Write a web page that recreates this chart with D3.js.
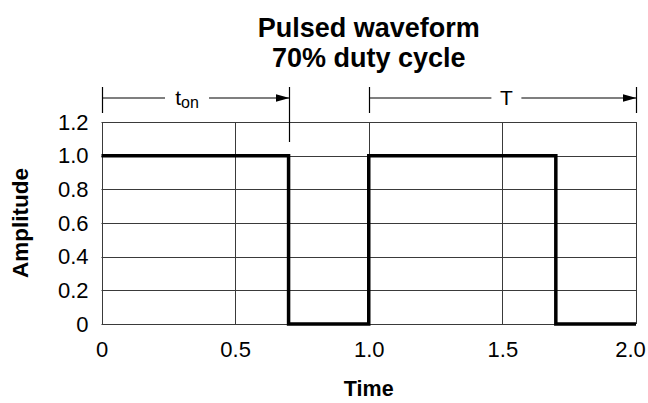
<!DOCTYPE html>
<html>
<head>
<meta charset="utf-8">
<script src="https://cdn.jsdelivr.net/npm/d3@7"></script>
<style>
  body { margin: 0; background: #fff; }
  svg { display: block; font-family: "Liberation Sans", Arial, Helvetica, sans-serif; }
</style>
</head>
<body>
<svg id="chart" width="648" height="403"></svg>
<script>
const titleLines = ["Pulsed waveform", "70% duty cycle"];
const timePoints = [0, 0.7, 0.7, 1.0, 1.0, 1.7, 1.7, 2.0];
const amplitudes = [1, 1, 0, 0, 1, 1, 0, 0];
const xTicks = [0, 0.5, 1.0, 1.5, 2.0];
const xTickLabels = ["0", "0.5", "1.0", "1.5", "2.0"];
const yTicks = [0, 0.2, 0.4, 0.6, 0.8, 1.0, 1.2];
const yTickLabels = ["0", "0.2", "0.4", "0.6", "0.8", "1.0", "1.2"];
const spanStarts = [0, 1.0];
const spanEnds = [0.7, 2.0];
const spanLabels = ["t", "T"];
const spanSubs = ["on", ""];
const spanLabelAt = [0.32, 1.515];

const svg = d3.select("#chart");
const margin = { top: 122, right: 12, bottom: 79, left: 101.5 };
const width = 648, height = 403;

const x = d3.scaleLinear().domain([0, 2]).range([margin.left, width - margin.right]);
const y = d3.scaleLinear().domain([0, 1.2]).range([height - margin.bottom, margin.top]);

// grid
const grid = svg.append("g").attr("stroke", "#3a3a3a").attr("stroke-width", 1);
grid.selectAll("line.h")
  .data(yTicks)
  .enter()
  .append("line")
  .attr("class", "h")
  .attr("x1", x(0)).attr("x2", x(2))
  .attr("y1", (d) => Math.round(y(d)) + 0.5)
  .attr("y2", (d) => Math.round(y(d)) + 0.5);
grid.selectAll("line.v")
  .data(xTicks)
  .enter()
  .append("line")
  .attr("class", "v")
  .attr("y1", y(0)).attr("y2", y(1.2))
  .attr("x1", (d) => Math.round(x(d)) + 0.5)
  .attr("x2", (d) => Math.round(x(d)) + 0.5);

// axes (labels only)
const xAxis = d3.axisBottom(x).tickValues(xTicks).tickFormat((d, i) => xTickLabels[i]).tickSize(0).tickPadding(17);
const yAxis = d3.axisLeft(y).tickValues(yTicks).tickFormat((d, i) => yTickLabels[i]).tickSize(0).tickPadding(13);

const gx = svg.append("g").attr("transform", `translate(0,${y(0)})`).call(xAxis);
const gy = svg.append("g").attr("transform", `translate(${x(0)},0)`).call(yAxis);
[gx, gy].forEach((g) => {
  g.select(".domain").remove();
  g.selectAll("text").attr("font-size", 22).attr("fill", "#000").attr("font-family", null);
});
// last x label is pulled in so it stays inside the picture
gx.selectAll("text").filter((d) => d === 2).attr("dx", -6);

// waveform
const line = d3.line().x((d, i) => x(timePoints[i])).y((d, i) => y(amplitudes[i]));
svg.append("path")
  .datum(amplitudes)
  .attr("d", line)
  .attr("fill", "none")
  .attr("stroke", "#000")
  .attr("stroke-width", 3.5)
  .attr("stroke-linejoin", "miter")
  .attr("stroke-linecap", "butt");

// span annotations
const arrowY = 98;
svg.append("defs").append("marker")
  .attr("id", "head")
  .attr("viewBox", "0 0 14 8")
  .attr("refX", 14).attr("refY", 4)
  .attr("markerWidth", 14).attr("markerHeight", 8)
  .attr("markerUnits", "userSpaceOnUse")
  .attr("orient", "auto")
  .append("path")
  .attr("d", "M0,0L14,4L0,8Z")
  .attr("fill", "#000");

const ann = svg.append("g").attr("stroke", "#000").attr("stroke-width", 1.2);
spanStarts.forEach((s, i) => {
  const e = spanEnds[i];
  const xs = Math.round(x(s)) + 0.5, xe = Math.round(x(e)) + 0.5, xl = x(spanLabelAt[i]);
  const gap = spanSubs[i] ? 22 : 15;
  ann.append("line").attr("x1", xs).attr("x2", xs).attr("y1", 87).attr("y2", 113);
  ann.append("line").attr("x1", xe).attr("x2", xe).attr("y1", 87).attr("y2", e === 0.7 ? 142 : 113);
  ann.append("line").attr("x1", xs).attr("x2", xl - gap).attr("y1", arrowY).attr("y2", arrowY);
  ann.append("line").attr("x1", xl + gap).attr("x2", xe).attr("y1", arrowY).attr("y2", arrowY)
    .attr("marker-end", "url(#head)");
  const t = svg.append("text")
    .attr("x", xl)
    .attr("y", arrowY + 7)
    .attr("text-anchor", "middle")
    .attr("font-size", 21)
    .text(spanLabels[i]);
  if (spanSubs[i]) {
    t.append("tspan").attr("font-size", 16).attr("dy", 3).text(spanSubs[i]);
  }
});

// title
svg.append("g")
  .selectAll("text")
  .data(titleLines)
  .enter()
  .append("text")
  .attr("x", (x(0) + x(2)) / 2)
  .attr("y", (d, i) => 37 + i * 30)
  .attr("text-anchor", "middle")
  .attr("font-size", 27)
  .attr("font-weight", "bold")
  .text((d) => d);

// axis titles
svg.append("text")
  .attr("x", (x(0) + x(2)) / 2)
  .attr("y", 396)
  .attr("text-anchor", "middle")
  .attr("font-size", 21.5)
  .attr("font-weight", "bold")
  .text("Time");

svg.append("text")
  .attr("transform", `translate(28,${y(0.6)}) rotate(-90)`)
  .attr("text-anchor", "middle")
  .attr("font-size", 22.5)
  .attr("font-weight", "bold")
  .text("Amplitude");
</script>
</body>
</html>
